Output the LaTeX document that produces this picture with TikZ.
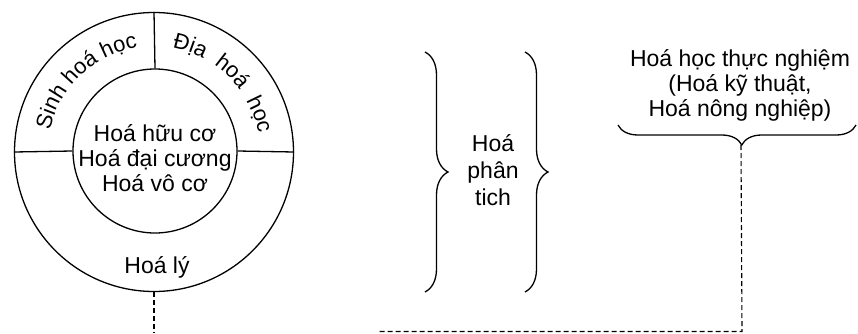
\documentclass[tikz,border=0pt]{standalone}
\usepackage{fontspec}
\setmainfont{Liberation Sans}
\usepackage{tikz}
\usetikzlibrary{positioning, calc, decorations.pathreplacing, decorations.text}

\begin{document}
\begin{tikzpicture}[x=1pt, y=1pt, line width=1.3pt,
	font=\fontsize{23}{25}\selectfont,
	link/.style={line width=1.1pt, dash pattern=on 5pt off 3pt},
	bigbrace/.style={decorate, decoration={brace, amplitude=#1}}]
			
			\useasboundingbox (0,0) rectangle (858,333);
			
			\node (outer) at (154,181) [draw, circle, minimum size=279pt]{};
			\node (inner) at (155,182) [draw, circle, minimum size=164pt]{};
			
			\draw (outer.west) -- (inner.west);
			\draw (inner.east) -- (outer.east);
			\draw (inner.north) -- (outer.north);
			
			\node (centre) at (155,175) [text centered, align=center]{Hoá hữu cơ\\Hoá đại cương\\Hoá vô cơ};
			\node (physchem) at (157,66) {Hoá lý};
			
			\path[decorate, decoration={text along path, text align=center,
				text={|\fontsize{22}{22}\selectfont|Sinh hoá học}}]
				($(outer.center)+(168:106pt)$) arc[start angle=168, end angle=99, radius=106pt];
			\path[decorate, decoration={text along path, text align=fit to path stretching spaces,
				text={|\fontsize{22}{22}\selectfont|Địa hoá học}}]
				($(outer.center)+(80:106pt)$) arc[start angle=80, end angle=10, radius=106pt];
			
			\draw[bigbrace=23pt] (425,281) -- (425,41);
			\draw[bigbrace=23pt] (525,281) -- (525,41);
			\node (analytic) at (493,163) [text centered, align=center,
			font=\fontsize{23}{27}\selectfont]{Hoá\\phân\\tich};
			
			\node (applied) at (740,248) [text centered, align=center]{Hoá học thực nghiệm\\(Hoá kỹ thuật,\\Hoá nông nghiệp)};
			\draw[decorate, decoration={brace, amplitude=20pt, aspect=0.48}] (856,208) -- (618,208);
			\coordinate (tip) at (741,188);
			\coordinate (corner) at (742,1.5);
			\coordinate (lineend) at (377,1.5);
			\coordinate (bottom) at (154,0);
			
			\draw[link] (tip) -- (corner) -- (lineend);
			\draw[link] (outer.south) -- (bottom);
			
\end{tikzpicture}
\end{document}
